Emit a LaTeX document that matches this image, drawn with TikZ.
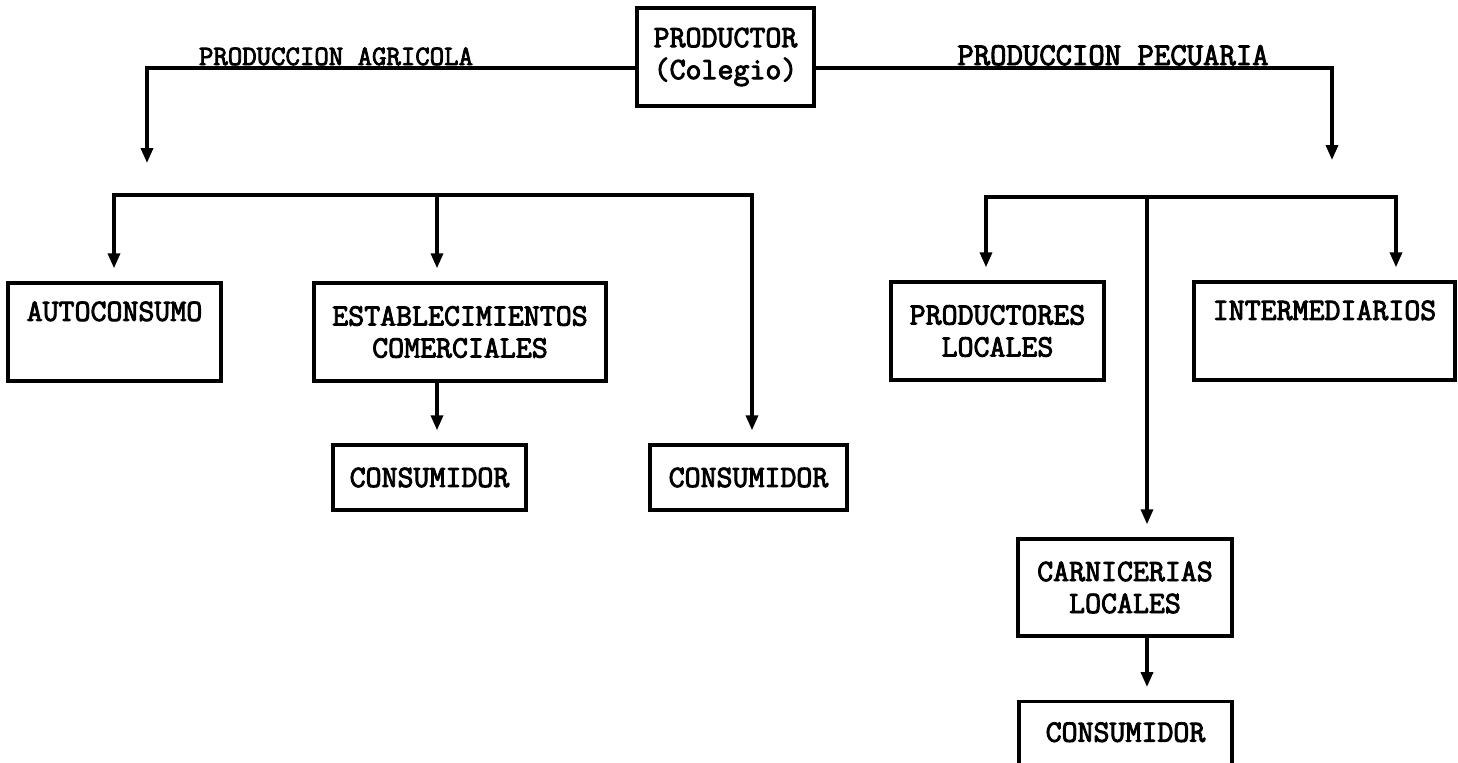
\documentclass[tikz,border=0pt]{standalone}
\usepackage{fontspec}
\newfontfamily\tw[FakeBold=3,AutoFakeBold=3]{Latin Modern Mono}
\usetikzlibrary{arrows.meta,calc}
\begin{document}
\begin{tikzpicture}[x=0.5pt,y=-0.5pt,
  line width=1.7pt,
  box/.style={draw,line width=1.7pt,align=center,inner sep=0pt,
    font=\tw\fontsize{15.5}{16}\selectfont},
  arr0/.style={-{Triangle[length=7.5pt,width=6pt]}},
  arr/.style={arr0,shorten >=6.5pt},
  bus/.style={line cap=rect},
  lbl/.style={anchor=base,inner sep=0pt}]
\useasboundingbox (0,0) rectangle (1458,762);
\clip (0,0) rectangle (1458,762);

% boxes
\node[box,minimum width=88.5pt,minimum height=49pt] (prod) at (725.5,57) {PRODUCTOR\\(Colegio)};
\node[box,minimum width=106.5pt,minimum height=49pt] (auto) at (114.5,332) {AUTOCONSUMO\\\strut};
\node[box,minimum width=146pt,minimum height=49pt] (estab) at (460,332) {ESTABLECIMIENTOS\\COMERCIALES};
\node[box,minimum width=96.5pt,minimum height=32.5pt] (cons1) at (429.5,477.5) {CONSUMIDOR};
\node[box,minimum width=98.5pt,minimum height=32.5pt] (cons2) at (748.5,477.5) {CONSUMIDOR};
\node[box,minimum width=106.5pt,minimum height=49pt] (prodloc) at (997.5,331) {PRODUCTORES\\LOCALES};
\node[box,minimum width=130.5pt,minimum height=49pt] (inter) at (1324.5,331) {INTERMEDIARIOS\\\strut};
\node[box,minimum width=107pt,minimum height=48.5pt] (carn) at (1125,587.5) {CARNICERIAS\\LOCALES};
\node[box,minimum width=106.5pt,text height=20pt,text depth=20pt,anchor=north] (cons3) at (1125.5,700) {CONSUMIDOR};

% labels
\node[lbl,font=\tw\fontsize{14}{16}\selectfont] (lA) at (336,65) {PRODUCCION AGRICOLA};
\node[lbl,font=\tw\fontsize{15.9}{18}\selectfont] (lP) at (1113,65) {PRODUCCION PECUARIA};

% main branches
\coordinate (tL) at (147,163);
\coordinate (tR) at (1332,160);
\draw[arr0] ($(prod.west)+(0,11)$) -| (tL);
\draw[arr0] ($(prod.east)+(0,11)$) -| (tR);

% left bus
\coordinate (bL1) at (114,195);
\coordinate (bL2) at (752,195);
\coordinate (dE) at (437,195);
\draw[bus] (bL1) -- (bL2);
\draw[arr] (bL1) -- (bL1 |- auto.north);
\draw[arr] (dE) -- (dE |- estab.north);
\draw[arr] (bL2) -- (bL2 |- cons2.north);
\draw[arr] (estab.south -| dE) -- (cons1.north -| dE);

% right bus
\coordinate (bR1) at (986,197);
\coordinate (bR2) at (1396,197);
\coordinate (dC) at (1147,197);
\draw[bus] (bR1) -- (bR2);
\draw[arr] (bR1) -- (bR1 |- prodloc.north);
\draw[arr] (bR2) -- (bR2 |- inter.north);
\draw[arr] (dC) -- (dC |- carn.north);
\draw[arr] (carn.south -| dC) -- (cons3.north -| dC);
\end{tikzpicture}
\end{document}
